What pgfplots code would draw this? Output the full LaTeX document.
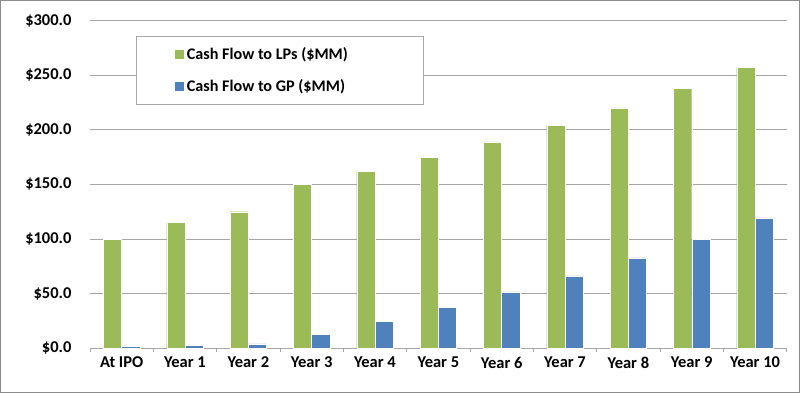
\documentclass[border=0pt]{standalone}
\usepackage{pgfplots}
\pgfplotsset{compat=1.18}
\usepackage{fontspec}
\setmainfont{Carlito}
\definecolor{lpgreen}{HTML}{9BBB59}
\definecolor{gpblue}{HTML}{4F81BD}
\definecolor{gridgray}{HTML}{A6A6A6}
\definecolor{framegray}{HTML}{8C8C8C}
\begin{document}
\begin{tikzpicture}
\begin{axis}[
  at={(0,0)}, anchor=south west,
  scale only axis,
  width=696.7bp, height=327.8bp,
  xmin=-0.5, xmax=10.5,
  ymin=0, ymax=300,
  axis x line*=bottom,
  axis y line*=left,
  y axis line style={draw=none},
  x axis line style={gridgray, line width=0.9bp, -},
  ytick={0,50,...,300},
  yticklabels={\$0.0,\$50.0,\$100.0,\$150.0,\$200.0,\$250.0,\$300.0},
  ymajorgrids,
  grid style={gridgray, line width=0.9bp},
  xtick={0,...,10},
  xticklabels={At IPO,Year 1,Year 2,Year 3,Year 4,Year 5,Year 6,Year 7,Year 8,Year 9,Year 10},
  minor xtick={-0.5,0.5,...,10.5},
  major tick length=0pt,
  minor tick length=4bp,
  xtick align=outside,
  minor tick style={gridgray, line width=0.9bp},
  every tick/.style={gridgray},
  xticklabel style={font=\fontsize{16.5bp}{18bp}\selectfont\bfseries, yshift=-5bp},
  yticklabel style={font=\fontsize{16.5bp}{18bp}\selectfont\bfseries, anchor=east, xshift=-15bp},
  ybar, bar width=18.3bp,
  legend style={at={(0.066,0.9527)}, anchor=north west,
    draw=gridgray, line width=0.8bp, fill=white,
    font=\fontsize{16.2bp}{18bp}\selectfont\bfseries,
    inner xsep=38bp, inner ysep=9bp, row sep=15bp,
    legend cell align=left},
  legend image code/.code={\fill[#1] (0bp,-5bp) rectangle (10bp,5bp);},
]
\addplot[fill=lpgreen, draw=white, line width=0.4bp, bar shift=-9.15bp] coordinates {
(0,100) (1,115) (2,125) (3,150) (4,162) (5,175) (6,189) (7,204) (8,220) (9,238) (10,257)};
\addplot[fill=gpblue, draw=white, line width=0.4bp, bar shift=9.15bp] coordinates {
(0,2.1) (1,2.4) (2,4) (3,12.5) (4,24.4) (5,37.2) (6,51.6) (7,66.2) (8,82.7) (9,100) (10,119.3)};
\legend{Cash Flow to LPs (\$MM)\hspace*{36bp},Cash Flow to GP (\$MM)\hspace*{36bp}}
\end{axis}
\pgfresetboundingbox
\draw[framegray, line width=1.5bp] (-89.25bp,-43.95bp) rectangle (709.25bp,347.55bp);
\path[use as bounding box] (-90bp,-44.7bp) rectangle (710bp,348.3bp);
\end{tikzpicture}
\end{document}
